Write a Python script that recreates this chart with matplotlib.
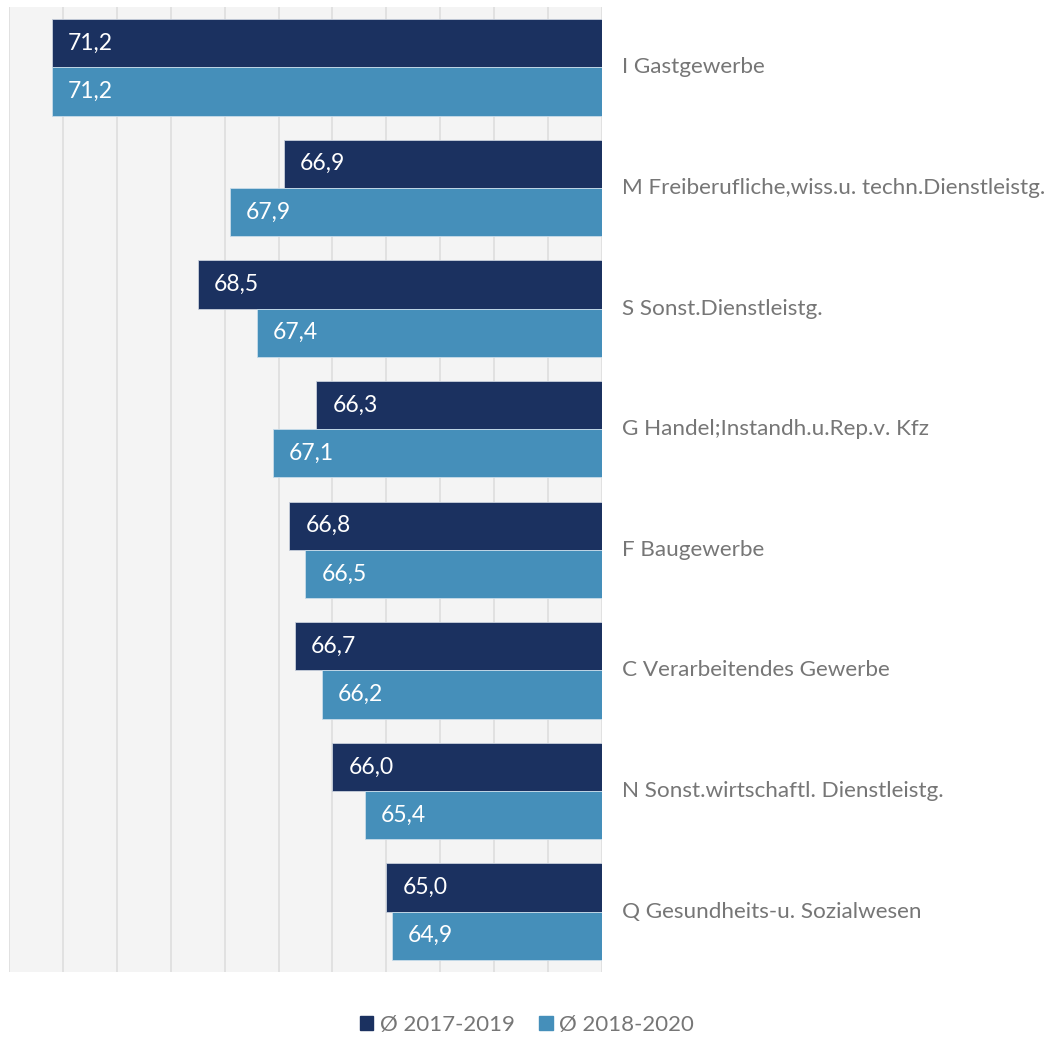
import numpy as np
import matplotlib.pyplot as plt
from matplotlib.patches import Patch

plt.rcParams['font.family'] = ['Lato', 'DejaVu Sans']

# Daten
categories = [
    "I Gastgewerbe",
    "M Freiberufliche,wiss.u. techn.Dienstleistg.",
    "S Sonst.Dienstleistg.",
    "G Handel;Instandh.u.Rep.v. Kfz",
    "F Baugewerbe",
    "C Verarbeitendes Gewerbe",
    "N Sonst.wirtschaftl. Dienstleistg.",
    "Q Gesundheits-u. Sozialwesen",
]
werte_2017_2019 = [71.2, 66.9, 68.5, 66.3, 66.8, 66.7, 66.0, 65.0]
werte_2018_2020 = [71.2, 67.9, 67.4, 67.1, 66.5, 66.2, 65.4, 64.9]
serien = ["Ø 2017-2019", "Ø 2018-2020"]

dunkel = "#1b3160"
hell = "#458fba"
grau = "#767676"

fig = plt.figure(figsize=(10.55, 10.39), dpi=100)
ax = fig.add_axes([9 / 1055, 1 - 972 / 1039, 593 / 1055, 965 / 1039])
ax.set_facecolor("#f4f4f4")

y = np.arange(len(categories))
h = 0.4
b1 = ax.barh(y - h / 2, werte_2017_2019, height=h, color=dunkel,
             edgecolor="#c8d0dc", linewidth=0.6, zorder=3)
b2 = ax.barh(y + h / 2, werte_2018_2020, height=h, color=hell,
             edgecolor="#c8dcea", linewidth=0.6, zorder=3)

# Achse: Werte wachsen nach links
ax.set_xlim(72, 61)
ax.set_ylim(len(categories) - 0.5, -0.5)
ax.set_xticks(np.arange(61, 73, 1))
ax.grid(axis="x", color="#dedede", linewidth=1.2, zorder=0)
ax.tick_params(length=0, labelbottom=False, labelleft=False)
for s in ax.spines.values():
    s.set_visible(False)

# Datenbeschriftungen
for bars, vals in ((b1, werte_2017_2019), (b2, werte_2018_2020)):
    for bar, v in zip(bars, vals):
        ax.annotate(f"{v:.1f}".replace(".", ","),
                    (v, bar.get_y() + bar.get_height() / 2),
                    xytext=(16, 0), textcoords="offset pixels",
                    ha="left", va="center", color="white", fontsize=16.5, zorder=4)

# Kategorienamen rechts
for i, c in enumerate(categories):
    ax.annotate(c, (61, i), xytext=(20, 0), textcoords="offset pixels",
                ha="left", va="center", color=grau, fontsize=16.2,
                annotation_clip=False)

handles = [Patch(color=dunkel), Patch(color=hell)]
fig.legend(handles, serien, loc="center", bbox_to_anchor=(527 / 1055, 1 - 1025 / 1039),
           ncol=2, frameon=False, fontsize=16, labelcolor=grau,
           handlelength=0.6, handleheight=0.6, handletextpad=0.3, columnspacing=1.1)

plt.savefig("out.png", dpi=100)
